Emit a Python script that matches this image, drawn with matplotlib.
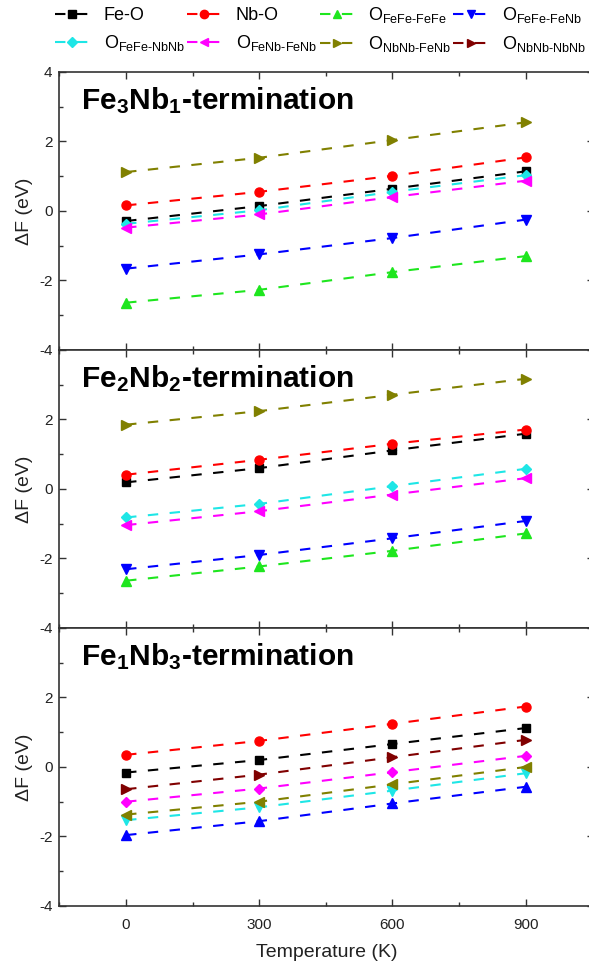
import matplotlib
matplotlib.use("Agg")
import matplotlib.pyplot as plt
from matplotlib.lines import Line2D
from matplotlib.ticker import MultipleLocator

plt.rcParams['font.family'] = ['Liberation Sans', 'DejaVu Sans']
plt.rcParams['mathtext.fontset'] = 'custom'
plt.rcParams['mathtext.rm'] = 'Liberation Sans'
plt.rcParams['mathtext.it'] = 'Liberation Sans:italic'
plt.rcParams['mathtext.bf'] = 'Liberation Sans:bold'
plt.rcParams['axes.unicode_minus'] = False

temps = [0, 300, 600, 900]

series = ['Fe-O', 'Nb-O', 'FeFe-FeFe', 'FeFe-FeNb',
          'FeFe-NbNb', 'FeNb-FeNb', 'NbNb-FeNb', 'NbNb-NbNb']
labels = ['Fe-O', 'Nb-O', r'O$_\text{FeFe-FeFe}$', r'O$_\text{FeFe-FeNb}$',
          r'O$_\text{FeFe-NbNb}$', r'O$_\text{FeNb-FeNb}$',
          r'O$_\text{NbNb-FeNb}$', r'O$_\text{NbNb-NbNb}$']
colors = ['#000000', '#ff0000', '#1ee61e', '#0000ff',
          '#1ee6e6', '#ff00ff', '#808000', '#800000']
markers = ['s', 'o', '^', 'v', 'D', '<', '>', '>']

# Fe3Nb1 termination
fe3nb1 = {
    'Fe-O':      [-0.29, 0.14, 0.64, 1.14],
    'Nb-O':      [0.16, 0.55, 1.01, 1.54],
    'FeFe-FeFe': [-2.64, -2.27, -1.76, -1.30],
    'FeFe-FeNb': [-1.66, -1.25, -0.78, -0.25],
    'FeFe-NbNb': [-0.37, 0.02, 0.55, 1.03],
    'FeNb-FeNb': [-0.48, -0.10, 0.40, 0.87],
    'NbNb-FeNb': [1.12, 1.53, 2.04, 2.55],
}
# Fe2Nb2 termination
fe2nb2 = {
    'Fe-O':      [0.19, 0.60, 1.11, 1.59],
    'Nb-O':      [0.41, 0.84, 1.30, 1.71],
    'FeFe-FeFe': [-2.64, -2.23, -1.78, -1.28],
    'FeFe-FeNb': [-2.31, -1.90, -1.42, -0.92],
    'FeFe-NbNb': [-0.82, -0.43, 0.08, 0.58],
    'FeNb-FeNb': [-1.04, -0.64, -0.16, 0.31],
    'NbNb-FeNb': [1.85, 2.24, 2.71, 3.17],
}
# Fe1Nb3 termination
fe1nb3 = {
    'Fe-O':      [-0.16, 0.20, 0.66, 1.12],
    'Nb-O':      [0.35, 0.75, 1.24, 1.74],
    'FeFe-FeNb': [-1.96, -1.56, -1.05, -0.57],
    'FeFe-NbNb': [-1.53, -1.16, -0.68, -0.18],
    'FeNb-FeNb': [-1.00, -0.62, -0.15, 0.32],
    'NbNb-FeNb': [-1.37, -1.00, -0.50, 0.00],
    'NbNb-NbNb': [-0.64, -0.22, 0.28, 0.78],
}
# marker shapes used in the last panel
fe1nb3_markers = {'Fe-O': 's', 'Nb-O': 'o', 'FeFe-FeNb': '^', 'FeFe-NbNb': 'v',
                  'FeNb-FeNb': 'D', 'NbNb-FeNb': '<', 'NbNb-NbNb': '>'}

panels = [(fe3nb1, {}, r'Fe$_\mathbf{3}$Nb$_\mathbf{1}$-termination'),
          (fe2nb2, {}, r'Fe$_\mathbf{2}$Nb$_\mathbf{2}$-termination'),
          (fe1nb3, fe1nb3_markers, r'Fe$_\mathbf{1}$Nb$_\mathbf{3}$-termination')]

fig = plt.figure(figsize=(5.89, 9.67), dpi=100)
left, width, h = 0.101, 0.9075, 0.2875
bottoms = [0.6381, 0.3506, 0.0631]

dash = (0, (5, 5.5))
for k, (data, mk_over, title) in enumerate(panels):
    ax = fig.add_axes([left, bottoms[k], width, h])
    for i, name in enumerate(series):
        if name not in data:
            continue
        mk = mk_over.get(name, markers[i])
        ms = 5.5 if mk == 's' else (5 if mk == 'D' else 6.5)
        ax.plot(temps, data[name], color=colors[i], linestyle=dash, lw=1.5,
                marker=mk, markersize=ms)
    ax.set_xlim(-150, 1054)
    ax.set_ylim(-4, 4)
    ax.set_xticks([0, 300, 600, 900])
    ax.xaxis.set_minor_locator(MultipleLocator(150))
    ax.set_yticks([-4, -2, 0, 2, 4])
    ax.yaxis.set_minor_locator(MultipleLocator(1))
    if k == 0:
        ax.set_yticklabels(['-4', '-2', '0', '2', '4'])
    else:
        ax.set_yticklabels(['-4', '-2', '0', '2', ''])
    ax.tick_params(which='both', direction='in', top=True, right=True,
                   width=1, colors='#333333', labelcolor='#222222', labelsize=11)
    ax.tick_params(which='major', length=5, pad=5)
    ax.tick_params(which='minor', length=3)
    ax.tick_params(axis='x', which='major', pad=9)
    if k < 2:
        ax.tick_params(labelbottom=False)
    else:
        ax.set_xlabel('Temperature (K)', fontsize=14, labelpad=8, color='#222222')
    ax.set_ylabel(r'ΔF (eV)', fontsize=14, labelpad=4, color='#222222')
    for sp in ax.spines.values():
        sp.set_linewidth(1.2)
        sp.set_color('#333333')
    ax.text(0.040, 0.867, title, transform=ax.transAxes, fontsize=21.5,
            fontweight='bold', va='baseline', ha='left')

# legend proxies, rearranged so entries fill row by row
handles = [Line2D([], [], color=colors[i], linestyle=dash, lw=1.5,
                  marker=markers[i], markersize=5 if markers[i] == 'D' else 6,
                  label=labels[i]) for i in range(8)]
order = [0, 4, 1, 5, 2, 6, 3, 7]
fig.legend([handles[i] for i in order], [labels[i] for i in order],
           loc='upper left', bbox_to_anchor=(0.093, 0.995), ncol=4,
           frameon=False, fontsize=13, handlelength=1.9, handletextpad=0.8,
           columnspacing=0.12, labelspacing=0.5, borderpad=0, borderaxespad=0,
           numpoints=1)

fig.savefig('out.png', dpi=100)
